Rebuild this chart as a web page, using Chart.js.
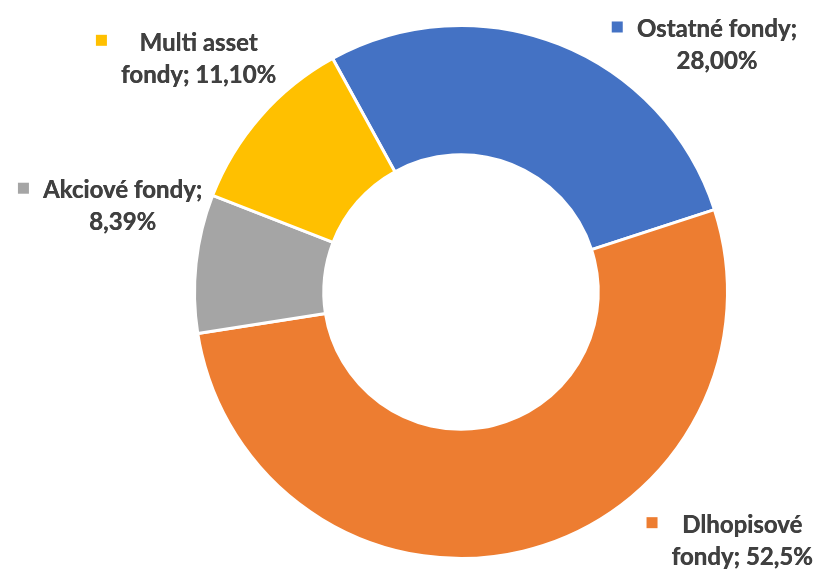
<!DOCTYPE html>
<html>
<head>
<meta charset="utf-8">
<script src="https://cdn.jsdelivr.net/npm/chart.js@4/dist/chart.umd.min.js"></script>
<style>
    html, body { margin: 0; padding: 0; background: #fff; }
    #wrap { width: 819px; height: 570px; }
</style>
</head>
<body>
<div id="wrap"><canvas id="chart" width="819" height="570"></canvas></div>
<script>
const categories = ["Ostatné fondy", "Dlhopisové fondy", "Akciové fondy", "Multi asset fondy"];
const shares = [28.00, 52.5, 8.39, 11.10];
const shareLabels = ["28,00%", "52,5%", "8,39%", "11,10%"];
const colors = ["#4472C4", "#ED7D31", "#A5A5A5", "#FFC000"];

// label text lines and placement relative to the ring centre, in units of outer radius
const labelLines = [
    ["Ostatné fondy;", shareLabels[0]],
    ["Dlhopisové", "fondy; " + shareLabels[1]],
    ["Akciové fondy;", shareLabels[2]],
    ["Multi asset", "fondy; " + shareLabels[3]]
];
const labelAnchors = [[0.96, -0.925], [1.055, 0.935], [-1.27, -0.32], [-0.985, -0.875]];

const FONT = "bold 24px Lato";
const LINE_H = 32;

const calloutLabels = {
    id: "calloutLabels",
    afterDatasetsDraw(chart) {
        const { ctx } = chart;
        const arcs = chart.getDatasetMeta(0).data;
        ctx.save();
        ctx.font = FONT;
        ctx.textBaseline = "middle";
        ctx.textAlign = "center";
        arcs.forEach((arc, i) => {
            const r = arc.outerRadius;
            const cx = arc.x + labelAnchors[i][0] * r;
            const cy = arc.y + labelAnchors[i][1] * r;
            const lines = labelLines[i];
            const boxW = Math.max(...lines.map(l => ctx.measureText(l).width));
            const top = cy - (lines.length - 1) * LINE_H / 2;
            ctx.fillStyle = "#404040";
            lines.forEach((l, k) => {
                ctx.fillText(l, cx, top + k * LINE_H);
                ctx.fillText(l, cx + 0.4, top + k * LINE_H);
            });
            ctx.fillStyle = colors[i];
            ctx.fillRect(cx - boxW / 2 - 25, top - 8, 11, 11);
        });
        ctx.restore();
    }
};

new Chart(document.getElementById("chart"), {
    type: "doughnut",
    data: {
        labels: categories,
        datasets: [{
            data: shares,
            backgroundColor: colors,
            borderColor: "#ffffff",
            borderWidth: 3
        }]
    },
    options: {
        responsive: false,
        animation: false,
        events: [],
        rotation: -28.8,
        cutout: "51.5%",
        layout: { padding: { top: 24, bottom: 10, left: 103, right: 0 } },
        plugins: {
            legend: { display: false },
            tooltip: { enabled: false }
        }
    },
    plugins: [calloutLabels]
});
</script>
</body>
</html>
